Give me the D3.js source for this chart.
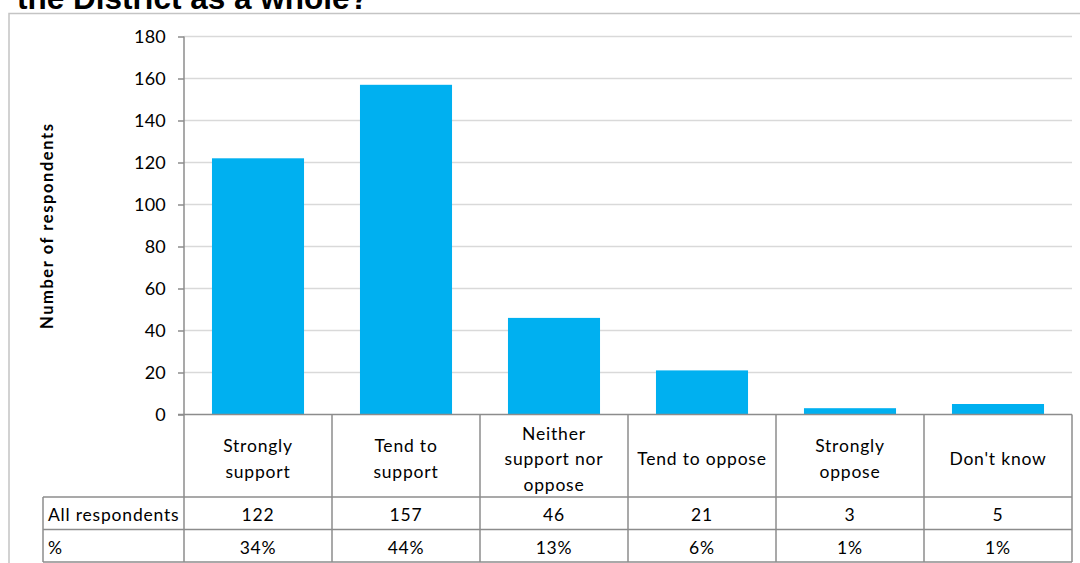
<!DOCTYPE html>
<html>
<head>
<meta charset="utf-8">
<script src="https://cdn.jsdelivr.net/npm/d3@7"></script>
<style>
  html, body { margin: 0; padding: 0; background: #fff; }
  svg { display: block; }
</style>
</head>
<body>
<svg id="chart" width="1080" height="563"></svg>
<script>
// ---- data ----
const titleText = "the District as a whole?";
const yAxisTitle = "Number of respondents";
const categories = ["Strongly support", "Tend to support", "Neither support nor oppose", "Tend to oppose", "Strongly oppose", "Don't know"];
const categoryLines = [["Strongly", "support"], ["Tend to", "support"], ["Neither", "support nor", "oppose"], ["Tend to oppose"], ["Strongly", "oppose"], ["Don't know"]];
const counts = [122, 157, 46, 21, 3, 5];
const percents = ["34%", "44%", "13%", "6%", "1%", "1%"];
const rowLabels = ["All respondents", "%"];
const yTicks = [0, 20, 40, 60, 80, 100, 120, 140, 160, 180];

// ---- layout ----
const svg = d3.select("#chart");
const plotLeft = 184, plotRight = 1072, plotTop = 36.5, plotBottom = 414.5;
const catRowBottom = 497, row1Bottom = 529.5, row2Bottom = 562;
const tableLeft = 43;
const lineColor = "#8c8c8c";
const fontFam = "Lato, 'Open Sans', sans-serif";

const x = d3.scaleBand().domain(categories).range([plotLeft, plotRight])
  .paddingInner(0.378).paddingOuter(0.189);
const y = d3.scaleLinear().domain([0, 180]).range([plotBottom, plotTop]);

// outer chart border
svg.append("path")
  .attr("d", `M9,563 L9,13.5 L1080,13.5`)
  .attr("fill", "none").attr("stroke", "#c4c4c4").attr("stroke-width", 1.5);

// title (clipped at top, as in the reference)
svg.append("text")
  .attr("x", 17).attr("y", 8.5)
  .attr("font-family", "'Liberation Sans', Arial, sans-serif")
  .attr("font-weight", "bold").attr("font-size", 31.5)
  .attr("fill", "#000")
  .text(titleText);

// gridlines
svg.append("g").selectAll("line").data(yTicks.filter(d => d > 0)).join("line")
  .attr("x1", plotLeft).attr("x2", plotRight)
  .attr("y1", d => y(d)).attr("y2", d => y(d))
  .attr("stroke", "#d9d9d9").attr("stroke-width", 1.3);

// y axis
const yAxis = d3.axisLeft(y).tickValues(yTicks).tickSize(6).tickPadding(12).tickFormat(d3.format("d"));
const gy = svg.append("g").attr("transform", `translate(${plotLeft},0)`).call(yAxis);
gy.select(".domain").remove();
gy.selectAll(".tick line").attr("stroke", lineColor).attr("stroke-width", 1.5);
gy.selectAll(".tick text")
  .attr("font-family", fontFam).attr("font-size", 18)
  .attr("letter-spacing", 0.2).attr("fill", "#000");

// y axis title
svg.append("text")
  .attr("transform", `translate(53,${(124 + 329) / 2}) rotate(-90)`)
  .attr("text-anchor", "middle")
  .attr("font-family", fontFam).attr("font-weight", "bold").attr("font-size", 16.5)
  .attr("fill", "#000")
  .attr("textLength", 205).attr("lengthAdjust", "spacing")
  .text(yAxisTitle);

// bars
svg.append("g").selectAll("rect").data(categories).join("rect")
  .attr("x", d => x(d))
  .attr("width", x.bandwidth())
  .attr("y", (d, i) => y(counts[i]))
  .attr("height", (d, i) => y(0) - y(counts[i]))
  .attr("fill", "#00b0f0");

// table lines
const step = x.step();
const colEdges = d3.range(categories.length + 1).map(i => plotLeft + i * step);
const tbl = svg.append("g").attr("stroke", lineColor).attr("stroke-width", 1.5).attr("fill", "none");
tbl.append("line").attr("x1", plotLeft).attr("x2", plotLeft).attr("y1", plotTop).attr("y2", row2Bottom);
tbl.append("line").attr("x1", plotLeft - 6).attr("x2", plotRight).attr("y1", plotBottom).attr("y2", plotBottom);
tbl.selectAll(".col").data(colEdges.slice(1)).join("line")
  .attr("x1", d => d).attr("x2", d => d).attr("y1", plotBottom).attr("y2", row2Bottom);
[catRowBottom, row1Bottom, row2Bottom].forEach(yy => {
  tbl.append("line").attr("x1", tableLeft).attr("x2", plotRight).attr("y1", yy).attr("y2", yy);
});
tbl.append("line").attr("x1", tableLeft).attr("x2", tableLeft).attr("y1", catRowBottom).attr("y2", row2Bottom);

// category labels
const txtStyle = sel => sel.attr("font-family", fontFam).attr("font-size", 17.5)
  .attr("letter-spacing", 0.8).attr("fill", "#000");
const catG = svg.append("g");
categories.forEach((c, i) => {
  const lines = categoryLines[i];
  const cx = x(c) + x.bandwidth() / 2;
  const t = catG.append("text").attr("text-anchor", "middle").call(txtStyle);
  lines.forEach((ln, j) => {
    t.append("tspan").attr("x", cx)
      .attr("y", 465 + (j - (lines.length - 1) / 2) * 25.5)
      .text(ln);
  });
});

// row labels
svg.append("g").selectAll("text").data(rowLabels).join("text")
  .attr("x", 48).attr("y", (d, i) => [521, 553.5][i])
  .call(txtStyle).text(d => d);

// values
svg.append("g").selectAll("text").data(categories).join("text")
  .attr("x", d => x(d) + x.bandwidth() / 2).attr("y", 521)
  .attr("text-anchor", "middle").call(txtStyle)
  .text((d, i) => counts[i]);
svg.append("g").selectAll("text").data(categories).join("text")
  .attr("x", d => x(d) + x.bandwidth() / 2).attr("y", 553.5)
  .attr("text-anchor", "middle").call(txtStyle)
  .text((d, i) => percents[i]);
</script>
</body>
</html>
